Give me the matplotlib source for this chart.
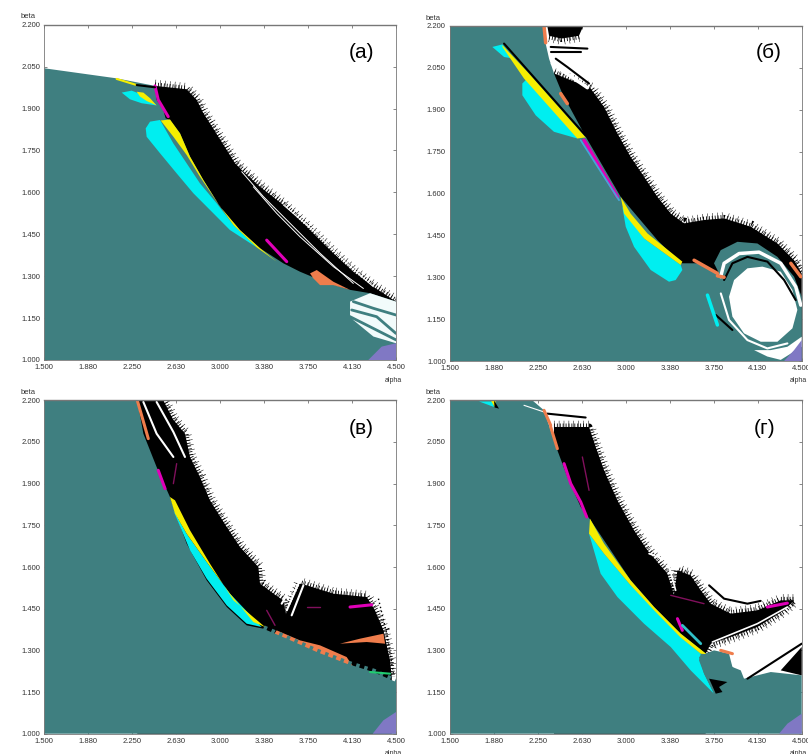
import matplotlib
matplotlib.use("Agg")
import matplotlib.pyplot as plt

# colours sampled by eye
TEAL = "#3f7f80"
CYAN = "#00eef0"
YELLOW = "#f6ee00"
MAGENTA = "#e000b8"
DARK_MAG = "#80105c"
ORANGE = "#ef7d4c"
PURPLE = "#8078c4"
BLUE = "#45a5d8"
GREEN = "#20cc70"

x_ticks = [1.5, 1.875, 2.25, 2.625, 3.0, 3.375, 3.75, 4.125, 4.5]
x_labels = ["1.500", "1.880", "2.250", "2.630", "3.000", "3.380", "3.750", "4.130", "4.500"]
y_ticks = [1.0, 1.15, 1.3, 1.45, 1.6, 1.75, 1.9, 2.05, 2.2]
y_labels = ["1.000", "1.150", "1.300", "1.450", "1.600", "1.750", "1.900", "2.050", "2.200"]

# panel (а)
a_teal_x = [1.5, 2.117, 2.444, 2.458, 2.515, 2.535, 2.572, 2.658, 2.743, 2.857, 2.999, 3.169, 3.34, 3.539, 3.681, 3.852, 4.108, 4.279, 4.5, 4.5, 1.5]
a_teal_y = [2.044, 2.008, 1.981, 1.931, 1.895, 1.865, 1.859, 1.811, 1.728, 1.644, 1.549, 1.465, 1.4, 1.346, 1.316, 1.286, 1.251, 1.239, 1.209, 1.0, 1.0]
a_black_x = [2.444, 2.714, 2.8, 2.857, 2.913, 2.985, 3.056, 3.127, 3.184, 3.34, 3.539, 3.738, 3.966, 4.136, 4.307, 4.5]
a_black_y = [1.981, 1.969, 1.931, 1.883, 1.847, 1.799, 1.752, 1.704, 1.68, 1.62, 1.555, 1.477, 1.382, 1.316, 1.262, 1.209]
a_white_x = [4.108, 4.279, 4.5, 4.5, 4.307, 4.136, 4.108]
a_white_y = [1.209, 1.239, 1.209, 1.06, 1.084, 1.143, 1.16]
a_cyan_x = [2.365, 2.402, 2.487, 2.601, 2.714, 2.828, 2.97, 3.113, 3.312, 3.084, 2.942, 2.771, 2.629, 2.487, 2.373]
a_cyan_y = [1.829, 1.853, 1.859, 1.775, 1.704, 1.632, 1.561, 1.483, 1.403, 1.465, 1.525, 1.597, 1.668, 1.74, 1.799]
a_yellow_x = [2.493, 2.572, 2.658, 2.743, 2.857, 2.999, 3.169, 3.34, 3.482, 3.312, 3.113, 2.97, 2.828, 2.714, 2.601]
a_yellow_y = [1.857, 1.861, 1.811, 1.728, 1.644, 1.549, 1.465, 1.4, 1.352, 1.403, 1.483, 1.567, 1.656, 1.734, 1.799]
a_cyan2_x = [2.16, 2.245, 2.345, 2.458, 2.33, 2.231]
a_cyan2_y = [1.957, 1.964, 1.948, 1.911, 1.919, 1.933]
a_yellow2_x = [2.288, 2.345, 2.402, 2.458, 2.373, 2.316]
a_yellow2_y = [1.96, 1.957, 1.937, 1.911, 1.927, 1.943]
a_orange_x = [3.767, 3.824, 3.966, 4.108, 3.966, 3.852, 3.795]
a_orange_y = [1.31, 1.322, 1.28, 1.251, 1.268, 1.268, 1.292]
a_purple_x = [4.264, 4.378, 4.5, 4.5]
a_purple_y = [1.0, 1.048, 1.06, 1.0]
a_white_lines = [
    ([3.184, 3.368, 3.568, 3.852, 4.136], [1.674, 1.585, 1.501, 1.382, 1.274]),
    ([3.283, 3.482, 3.681, 3.966, 4.222], [1.62, 1.525, 1.441, 1.334, 1.256]),
    ([3.539, 3.824, 4.079, 4.307], [1.555, 1.453, 1.346, 1.262]),
]
a_teal_lines = [
    ([4.136, 4.307, 4.5], [1.209, 1.185, 1.161]),
    ([4.122, 4.335, 4.5], [1.179, 1.155, 1.095]),
    ([4.108, 4.25, 4.5], [1.155, 1.125, 1.072]),
]
a_magenta_lines = [
    ([2.444, 2.472, 2.557], [1.981, 1.931, 1.871]),
    ([3.397, 3.568], [1.429, 1.352]),
]
a_yellow_line = ([2.117, 2.288], [2.006, 1.984])
a_dark_line = ([2.288, 2.444], [1.984, 1.976])

# panel (б)
b_teal_x = [1.5, 2.302, 2.316, 2.345, 2.387, 2.458, 2.658, 2.956, 3.269, 3.468, 3.61, 3.795, 3.752, 3.809, 3.952, 4.122, 4.293, 4.435, 4.5, 4.5, 1.5]
b_teal_y = [2.2, 2.2, 2.137, 2.083, 2.03, 1.958, 1.803, 1.588, 1.433, 1.35, 1.35, 1.314, 1.35, 1.397, 1.427, 1.421, 1.373, 1.302, 1.23, 1.0, 1.0]
b_black_x = [2.387, 2.53, 2.7, 2.814, 2.928, 3.041, 3.155, 3.269, 3.383, 3.496, 3.667, 3.838, 4.065, 4.293, 4.435, 4.5]
b_black_y = [2.03, 2.006, 1.976, 1.91, 1.815, 1.731, 1.66, 1.588, 1.528, 1.493, 1.505, 1.511, 1.481, 1.421, 1.361, 1.314]
b_disc_x = [4.165, 4.321, 4.421, 4.463, 4.421, 4.293, 4.151, 4.008, 3.909, 3.88, 3.923, 4.037]
b_disc_y = [1.338, 1.32, 1.254, 1.183, 1.117, 1.069, 1.069, 1.099, 1.159, 1.23, 1.29, 1.332]
b_crescent_x = [4.094, 4.236, 4.378, 4.5, 4.5, 4.321, 4.207]
b_crescent_y = [1.039, 1.039, 1.051, 1.087, 1.051, 1.004, 1.016]
b_top_x = [2.33, 2.637, 2.6, 2.45, 2.345]
b_top_y = [2.2, 2.2, 2.165, 2.155, 2.165]
b_yellow1_x = [1.947, 2.16, 2.658, 2.586, 2.131, 1.947]
b_yellow1_y = [2.131, 2.036, 1.801, 1.797, 2.012, 2.125]
b_cyan1_x = [1.861, 1.947, 2.046, 1.961]
b_cyan1_y = [2.125, 2.134, 2.083, 2.089]
b_cyan2_x = [2.16, 2.117, 2.117, 2.231, 2.387, 2.586, 2.53]
b_cyan2_y = [2.012, 1.994, 1.952, 1.88, 1.821, 1.797, 1.851]
b_yellow2_x = [2.956, 3.041, 3.184, 3.482, 3.468, 3.155, 2.985]
b_yellow2_y = [1.588, 1.528, 1.457, 1.356, 1.344, 1.439, 1.528]
b_cyan3_x = [2.97, 3.155, 3.468, 3.482, 3.425, 3.368, 3.212, 3.07, 2.999]
b_cyan3_y = [1.552, 1.439, 1.344, 1.326, 1.29, 1.284, 1.326, 1.409, 1.481]
b_purple_x = [4.35, 4.435, 4.5, 4.5]
b_purple_y = [1.0, 1.039, 1.075, 1.0]
b_black_lines = [
    ([1.961, 2.658], [2.137, 1.807]),
    ([2.359, 2.672], [2.125, 2.119]),
    ([2.359, 2.615], [2.107, 2.107]),
    ([2.402, 2.501, 2.686], [2.083, 2.053, 1.994]),
    ([3.767, 3.909], [1.165, 1.111]),
    ([3.838, 3.909, 4.037, 4.207, 4.35, 4.449], [1.29, 1.35, 1.373, 1.356, 1.29, 1.218]),
]
b_white_lines = [
    ([2.373, 2.473, 2.672], [2.065, 2.036, 1.979]),
    ([3.809, 3.838, 3.966, 4.136, 4.321, 4.449, 4.492], [1.302, 1.35, 1.385, 1.39, 1.35, 1.266, 1.2]),
]
b_ring_x = [3.81, 3.88, 4.037, 4.207, 4.378]
b_ring_y = [1.242, 1.147, 1.075, 1.045, 1.063]
b_orange_lines = [
    ([2.302, 2.316], [2.2, 2.14]),
    ([2.444, 2.501], [1.958, 1.922]),
    ([3.582, 3.781], [1.361, 1.314]),
    ([3.781, 3.838], [1.305, 1.3]),
    ([4.407, 4.492], [1.35, 1.302]),
]

# panel (в)
c_teal_x = [1.5, 2.293, 2.345, 2.458, 2.572, 2.714, 2.885, 3.056, 3.226, 3.368, 3.568, 3.824, 4.079, 4.307, 4.5, 4.5, 1.5]
c_teal_y = [2.2, 2.2, 2.08, 1.96, 1.852, 1.684, 1.552, 1.456, 1.39, 1.378, 1.342, 1.294, 1.252, 1.222, 1.186, 1.0, 1.0]
c_black_x = [2.293, 2.515, 2.6, 2.7, 2.743, 2.828, 2.913, 3.056, 3.169, 3.326, 3.34, 3.482, 3.539, 3.56, 3.681, 3.738, 3.966, 4.25, 4.321, 4.393, 4.449, 4.464]
c_black_y = [2.2, 2.2, 2.13, 2.08, 1.996, 1.924, 1.84, 1.744, 1.672, 1.6, 1.54, 1.496, 1.48, 1.43, 1.54, 1.534, 1.504, 1.492, 1.444, 1.372, 1.264, 1.204]
c_yellow_x = [2.572, 2.615, 2.743, 2.913, 3.113, 3.383, 3.283, 3.084, 2.885, 2.714, 2.615]
c_yellow_y = [1.852, 1.84, 1.732, 1.612, 1.48, 1.384, 1.402, 1.504, 1.618, 1.72, 1.792]
c_cyan_x = [2.601, 2.714, 2.885, 3.084, 3.354, 3.226, 3.056, 2.885, 2.743]
c_cyan_y = [1.804, 1.72, 1.618, 1.504, 1.384, 1.396, 1.462, 1.558, 1.66]
c_orange_x = [3.482, 3.681, 3.852, 4.079, 4.136, 3.966, 3.681, 3.454]
c_orange_y = [1.372, 1.336, 1.318, 1.276, 1.24, 1.264, 1.312, 1.354]
c_orange2_x = [4.022, 4.193, 4.393, 4.407, 4.25]
c_orange2_y = [1.324, 1.342, 1.36, 1.324, 1.33]
c_purple_x = [4.301, 4.392, 4.5, 4.5]
c_purple_y = [1.0, 1.048, 1.078, 1.0]
c_white_lines = [
    ([2.345, 2.458, 2.601], [2.194, 2.08, 1.996]),
    ([2.458, 2.601, 2.7], [2.194, 2.086, 1.996]),
    ([3.568, 3.667], [1.444, 1.54]),
    ([3.525, 3.625], [1.468, 1.54]),
    ([3.61, 3.71], [1.426, 1.534]),
]
c_magenta_lines = [
    ([2.472, 2.53], [1.948, 1.882]),
    ([4.108, 4.293], [1.456, 1.464]),
]
c_dark_lines = [
    ([2.629, 2.601], [1.972, 1.9]),
    ([3.397, 3.468], [1.444, 1.39]),
    ([3.738, 3.852], [1.456, 1.456]),
]
c_orange_line = ([2.293, 2.387], [2.2, 2.062])
c_green_line = ([4.278, 4.449], [1.222, 1.216])
c_fringe_x = [4.35, 4.421, 4.478]
c_fringe_y = [1.486, 1.36, 1.216]

# panel (г)
d_teal_x = [1.5, 2.202, 2.302, 2.359, 2.416, 2.501, 2.615, 2.7, 2.871, 3.041, 3.241, 3.468, 3.681, 3.752, 3.88, 3.88, 3.909, 3.98, 4.008, 4.236, 4.5, 4.5, 1.5]
d_teal_y = [2.2, 2.2, 2.164, 2.092, 2.02, 1.924, 1.816, 1.768, 1.66, 1.552, 1.456, 1.36, 1.288, 1.3, 1.288, 1.264, 1.24, 1.228, 1.198, 1.222, 1.21, 1.0, 1.0]
d_black_x = [2.387, 2.686, 2.743, 2.814, 2.928, 3.07, 3.184, 3.354, 3.41, 3.44, 3.553, 3.639, 3.724, 3.895, 4.122, 4.321, 4.435, 4.35, 4.122, 3.895, 3.724, 3.681]
d_black_y = [2.104, 2.104, 2.032, 1.948, 1.84, 1.732, 1.66, 1.576, 1.5, 1.588, 1.57, 1.516, 1.468, 1.432, 1.444, 1.48, 1.48, 1.444, 1.384, 1.348, 1.324, 1.288]
d_cyan_x = [2.686, 2.814, 3.041, 3.241, 3.468, 3.639, 3.624, 3.667, 3.752, 3.553, 3.383, 3.155, 2.928, 2.785]
d_cyan_y = [1.72, 1.648, 1.534, 1.45, 1.348, 1.288, 1.264, 1.216, 1.144, 1.228, 1.312, 1.396, 1.492, 1.576]
d_yellow_x = [2.694, 2.814, 3.041, 3.241, 3.468, 3.69, 3.639, 3.468, 3.241, 3.041, 2.814, 2.686]
d_yellow_y = [1.774, 1.684, 1.552, 1.456, 1.36, 1.286, 1.288, 1.346, 1.444, 1.534, 1.648, 1.72]
d_blob_x = [3.624, 3.681, 3.88, 3.909, 3.98, 3.952, 3.752, 3.667]
d_blob_y = [1.276, 1.288, 1.288, 1.24, 1.216, 1.174, 1.144, 1.216]
d_frag_x = [3.71, 3.866, 3.795, 3.824, 3.767]
d_frag_y = [1.198, 1.186, 1.168, 1.15, 1.144]
d_tri_x = [4.321, 4.5, 4.5]
d_tri_y = [1.228, 1.312, 1.21]
d_top_cyan_x = [1.747, 1.861, 1.875]
d_top_cyan_y = [2.196, 2.196, 2.176]
d_top_yellow_x = [1.847, 1.89, 1.881]
d_top_yellow_y = [2.2, 2.2, 2.176]
d_top_black_x = [1.875, 1.918, 1.881]
d_top_black_y = [2.2, 2.17, 2.174]
d_purple_x = [4.307, 4.378, 4.5, 4.5]
d_purple_y = [1.0, 1.036, 1.072, 1.0]
d_black_lines = [
    ([3.71, 3.838, 4.037, 4.15], [1.534, 1.486, 1.468, 1.478]),
    ([2.33, 2.657], [2.152, 2.138]),
    ([4.037, 4.5], [1.198, 1.324]),
]
d_white_lines = [
    ([3.738, 4.122, 4.378], [1.33, 1.396, 1.456]),
    ([3.198, 3.312], [1.648, 1.63]),
    ([3.369, 3.425], [1.6, 1.516]),
    ([2.131, 2.302], [2.182, 2.158]),
]
d_magenta_lines = [
    ([2.473, 2.53, 2.615, 2.666], [1.972, 1.9, 1.834, 1.78]),
    ([4.207, 4.378], [1.456, 1.47]),
    ([3.44, 3.482], [1.414, 1.372]),
]
d_dark_lines = [
    ([2.629, 2.686], [1.996, 1.876]),
    ([3.383, 3.667], [1.498, 1.468]),
]
d_orange_lines = [
    ([2.359, 2.416], [2.104, 2.026]),
    ([3.809, 3.909], [1.3, 1.288]),
    ([2.302, 2.359], [2.164, 2.11]),
]
d_streak = ([3.482, 3.639], [1.39, 1.324])


def area(ax, x, y, color, z=2):
    ax.fill(x, y, color=color, lw=0, zorder=z)


def lines(ax, segments, color, lw, z=5):
    for x, y in segments:
        ax.plot(x, y, color=color, lw=lw, zorder=z, solid_capstyle="round")


def fringe(ax, x, y, color="black", z=2):
    # thick dashed lines give the hairy edge of the fractal band
    ax.plot(x, y, color=color, lw=5, ls=(0, (0.12, 0.3)), dash_capstyle="butt", zorder=z)
    ax.plot(x, y, color=color, lw=9, ls=(0, (0.04, 0.35)), dash_capstyle="butt", zorder=z)


def black_band(ax, x, y):
    area(ax, x + [x[-1], x[0]], y + [1.0, 1.0], "black", z=1)
    fringe(ax, x, y, z=1)


def setup_axes(fig, left, right, top, bottom, label, label_x, label_y):
    ax = fig.add_axes([left / 808, 1 - bottom / 754, (right - left) / 808, (bottom - top) / 754])
    ax.set_xlim(1.5, 4.5)
    ax.set_ylim(1.0, 2.2)
    ax.set_xticks(x_ticks, x_labels)
    ax.set_yticks(y_ticks, y_labels)
    ax.tick_params(direction="in", length=2, width=0.5, top=True, right=True,
                   labelsize=5.5, labelcolor="#333333", color="#555555", pad=3)
    for name, spine in ax.spines.items():
        spine.set_linewidth(1.0 if name == "top" else 0.6)
        spine.set_color("#777777")
        spine.set_zorder(10)
    fig.text((left - 24) / 808, 1 - (top - 8) / 754, "beta", fontsize=5.5, color="#333333",
             ha="left", va="center")
    fig.text((right - 3) / 808, 1 - (bottom + 20) / 754, "alpha", fontsize=5, color="#333333",
             ha="center", va="center")
    fig.text(label_x / 808, 1 - label_y / 754, label, fontsize=15, color="black",
             ha="center", va="center")
    return ax


def draw_a(ax):
    black_band(ax, a_black_x, a_black_y)
    lines(ax, a_white_lines, "white", 0.7, z=1.5)
    area(ax, a_teal_x, a_teal_y, TEAL)
    area(ax, a_white_x, a_white_y, "#f2fbfb", z=3)
    lines(ax, a_teal_lines, TEAL, 2.0, z=4)
    area(ax, a_cyan_x, a_cyan_y, CYAN, z=3)
    area(ax, a_yellow_x, a_yellow_y, YELLOW, z=4)
    area(ax, a_cyan2_x, a_cyan2_y, CYAN, z=3)
    area(ax, a_yellow2_x, a_yellow2_y, YELLOW, z=4)
    area(ax, a_orange_x, a_orange_y, ORANGE, z=4)
    area(ax, a_purple_x, a_purple_y, PURPLE, z=4)
    lines(ax, a_magenta_lines, MAGENTA, 2.2)
    lines(ax, [a_yellow_line], YELLOW, 1.5)
    lines(ax, [a_dark_line], "black", 1.5)


def draw_b(ax):
    black_band(ax, b_black_x, b_black_y)
    area(ax, b_teal_x, b_teal_y, TEAL)
    area(ax, b_top_x, b_top_y, "black", z=3)
    fringe(ax, b_top_x[2:], b_top_y[2:], z=3)
    area(ax, b_disc_x, b_disc_y, "white", z=3)
    area(ax, b_crescent_x, b_crescent_y, "white", z=3)
    area(ax, b_purple_x, b_purple_y, PURPLE, z=4)
    area(ax, b_cyan1_x, b_cyan1_y, CYAN, z=3)
    area(ax, b_cyan2_x, b_cyan2_y, CYAN, z=3)
    area(ax, b_yellow1_x, b_yellow1_y, YELLOW, z=4)
    area(ax, b_cyan3_x, b_cyan3_y, CYAN, z=3)
    area(ax, b_yellow2_x, b_yellow2_y, YELLOW, z=4)
    lines(ax, b_white_lines, "white", 2.5, z=4)
    lines(ax, b_black_lines, "black", 1.5)
    lines(ax, [(b_ring_x, b_ring_y)], "white", 1.5, z=4)
    lines(ax, b_orange_lines, ORANGE, 2.5)
    lines(ax, [([2.643, 2.928], [1.791, 1.588])], MAGENTA, 2.5)
    lines(ax, [([2.615, 2.942], [1.791, 1.576])], BLUE, 1.3)
    lines(ax, [([3.696, 3.781], [1.236, 1.129])], CYAN, 2.5)


def draw_c(ax):
    black_band(ax, c_black_x, c_black_y)
    lines(ax, c_white_lines, "white", 1.5, z=1.5)
    area(ax, c_orange_x, c_orange_y, ORANGE, z=1.6)
    area(ax, c_teal_x, c_teal_y, TEAL)
    ax.plot(c_teal_x[9:15], c_teal_y[9:15], color=TEAL, lw=5, ls=(0, (0.5, 0.7)),
            dash_capstyle="butt", zorder=2)
    area(ax, c_cyan_x, c_cyan_y, CYAN, z=3)
    area(ax, c_yellow_x, c_yellow_y, YELLOW, z=4)
    area(ax, c_orange2_x, c_orange2_y, ORANGE, z=4)
    area(ax, c_purple_x, c_purple_y, PURPLE, z=4)
    lines(ax, c_magenta_lines, MAGENTA, 2.2)
    lines(ax, c_dark_lines, DARK_MAG, 1.0)
    lines(ax, [c_orange_line], ORANGE, 2.2)
    lines(ax, [c_green_line], GREEN, 1.5)
    ax.plot(c_fringe_x, c_fringe_y, color="black", lw=1, ls=(0, (1, 2)), zorder=2)


def draw_d(ax):
    black_band(ax, d_black_x, d_black_y)
    lines(ax, d_white_lines[:3], "white", 1.2, z=1.5)
    area(ax, d_teal_x, d_teal_y, TEAL)
    area(ax, d_tri_x, d_tri_y, "black", z=3)
    area(ax, d_cyan_x, d_cyan_y, CYAN, z=3)
    area(ax, d_yellow_x, d_yellow_y, YELLOW, z=4)
    area(ax, d_blob_x, d_blob_y, TEAL, z=4)
    area(ax, d_frag_x, d_frag_y, "black", z=5)
    area(ax, d_top_cyan_x, d_top_cyan_y, CYAN, z=3)
    area(ax, d_top_yellow_x, d_top_yellow_y, YELLOW, z=4)
    area(ax, d_top_black_x, d_top_black_y, "black", z=5)
    area(ax, d_purple_x, d_purple_y, PURPLE, z=4)
    lines(ax, d_black_lines, "black", 1.5)
    lines(ax, d_white_lines[3:], "white", 0.8)
    lines(ax, d_magenta_lines, MAGENTA, 2.2)
    lines(ax, d_dark_lines, DARK_MAG, 1.0)
    lines(ax, d_orange_lines, ORANGE, 2.2)
    lines(ax, [d_streak], "#30c0c8", 2.0)


def main():
    plt.rcParams["font.family"] = ["Liberation Sans", "DejaVu Sans"]
    fig = plt.figure(figsize=(8.08, 7.54), dpi=100)

    ax_a = setup_axes(fig, 44.3, 396, 24.7, 360, "(а)", 362, 53)
    ax_b = setup_axes(fig, 450, 801.7, 26, 361, "(б)", 769, 52)
    ax_c = setup_axes(fig, 44.3, 396, 400.3, 733.7, "(в)", 361, 429)
    ax_d = setup_axes(fig, 450, 801.7, 400.3, 733.7, "(г)", 765, 429)

    draw_a(ax_a)
    draw_b(ax_b)
    draw_c(ax_c)
    draw_d(ax_d)

    fig.savefig("out.png", dpi=100)
    plt.close(fig)


if __name__ == "__main__":
    main()
